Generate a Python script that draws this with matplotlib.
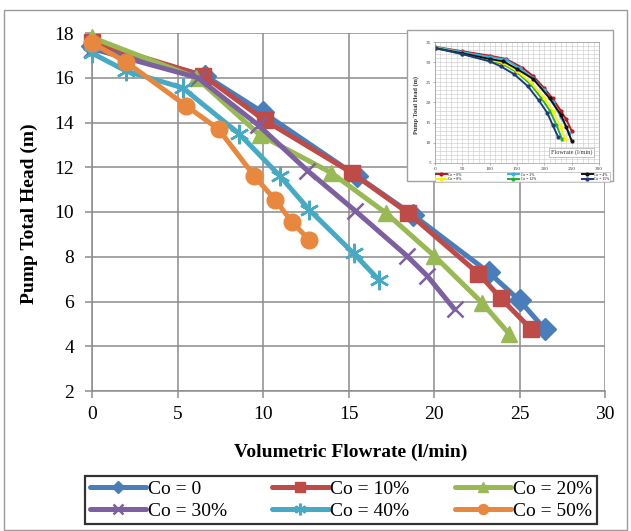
import matplotlib
matplotlib.use('Agg')
import matplotlib.pyplot as plt
from matplotlib.patches import Rectangle
from matplotlib.ticker import MultipleLocator

plt.rcParams['font.family'] = ['Liberation Serif', 'DejaVu Serif']

# ---------------- main chart data ----------------
labels = ['Co = 0', 'Co = 10%', 'Co = 20%', 'Co = 30%', 'Co = 40%', 'Co = 50%']

flow_0 = [0, 6.6, 10.0, 15.5, 18.8, 23.2, 25.0, 26.5]
head_0 = [17.4, 16.1, 14.45, 11.6, 9.85, 7.3, 6.05, 4.75]

flow_10 = [0, 6.5, 10.1, 15.2, 18.5, 22.6, 23.9, 25.7]
head_10 = [17.6, 16.1, 14.1, 11.75, 9.95, 7.25, 6.15, 4.75]

flow_20 = [0, 6.1, 9.8, 14.0, 17.2, 20.0, 22.8, 24.4]
head_20 = [17.8, 16.0, 13.45, 11.75, 9.95, 8.05, 5.95, 4.55]

flow_30 = [0, 6.2, 9.7, 12.6, 15.4, 18.4, 19.6, 21.2]
head_30 = [17.3, 16.0, 13.9, 11.85, 10.05, 8.05, 7.15, 5.65]

flow_40 = [0, 2.0, 5.3, 8.6, 11.0, 12.7, 15.3, 16.8]
head_40 = [17.1, 16.3, 15.55, 13.5, 11.6, 10.1, 8.15, 6.95]

flow_50 = [0, 2.0, 5.5, 7.4, 9.5, 10.7, 11.7, 12.7]
head_50 = [17.55, 16.7, 14.75, 13.7, 11.6, 10.55, 9.55, 8.75]

x_ticks = [0, 5, 10, 15, 20, 25, 30]
y_ticks = [2, 4, 6, 8, 10, 12, 14, 16, 18]

# ---------------- inset chart data ----------------
inset_labels = ['Co = 0%', 'Co = 2%', 'Co = 4%', 'Co = 8%', 'Co = 12%', 'Co = 15%']
in_flow_0 = [0, 50, 100, 130, 160, 180, 200, 215, 230, 240, 250]
in_head_0 = [33.8, 32.7, 31.6, 30.8, 28.6, 26.5, 23.5, 21.0, 18.0, 15.8, 13.0]
in_flow_2 = [0, 50, 100, 130, 155, 180, 200, 215, 230, 245]
in_head_2 = [33.8, 32.5, 31.3, 30.6, 28.5, 26.0, 23.0, 20.0, 16.5, 12.5]
in_flow_4 = [0, 50, 100, 125, 150, 180, 210, 230, 240, 250]
in_head_4 = [33.5, 32.2, 30.8, 30.2, 28.3, 25.8, 21.0, 17.0, 14.0, 10.5]
in_flow_8 = [0, 50, 100, 125, 150, 175, 200, 215, 230, 238]
in_head_8 = [33.6, 32.2, 30.6, 29.8, 27.8, 25.0, 21.0, 18.0, 14.0, 11.0]
in_flow_12 = [0, 50, 100, 125, 150, 175, 195, 210, 222, 232]
in_head_12 = [33.6, 32.0, 30.4, 29.5, 27.5, 24.5, 21.0, 18.0, 14.5, 11.0]
in_flow_15 = [0, 50, 100, 120, 145, 170, 190, 205, 215, 225]
in_head_15 = [33.5, 32.0, 30.2, 29.0, 27.0, 24.0, 20.5, 17.5, 14.5, 11.5]

W, H = 631, 531
fig = plt.figure(figsize=(W / 100, H / 100), dpi=100)

# outer chart border
fig.patches.append(Rectangle((4 / W, 1 - 530 / H), 623 / W, 520 / H,
                             transform=fig.transFigure, fill=False,
                             ec='#9a9a9a', lw=1.0, zorder=1))

ax = fig.add_axes([92 / W, 1 - 391 / H, 513 / W, 358 / H])

colors = ['#4A7EBB', '#BE4B48', '#98B954', '#7D60A0', '#46AAC5', '#E8883E']
markers = ['D', 's', '^', 'x', (6, 2, 0), 'o']
msizes = [11, 12, 12, 12, 14, 12]
flows = [flow_0, flow_10, flow_20, flow_30, flow_40, flow_50]
heads = [head_0, head_10, head_20, head_30, head_40, head_50]

handles = []
for f, h, c, m, ms, lab in zip(flows, heads, colors, markers, msizes, labels):
    ln, = ax.plot(f, h, color=c, lw=3.6, marker=m, markersize=ms,
                  markerfacecolor=c, markeredgecolor=c,
                  markeredgewidth=1.8 if m in ('x', (6, 2, 0)) else 1.0,
                  label=lab, solid_joinstyle='round', solid_capstyle='round',
                  clip_on=False, zorder=3)
    handles.append(ln)

ax.set_xlim(0, 30)
ax.set_ylim(2, 18)
ax.set_xticks(x_ticks)
ax.set_yticks(y_ticks)
ax.grid(True, color='#8c8c8c', lw=1.1)
ax.set_axisbelow(True)
for s in ['top', 'right']:
    ax.spines[s].set_visible(False)
for s in ['left', 'bottom']:
    ax.spines[s].set_color('#8c8c8c')
    ax.spines[s].set_linewidth(1.1)
ax.tick_params(axis='both', colors='#8c8c8c', labelcolor='black',
               labelsize=14, length=5, width=1.1, direction='out')
ax.tick_params(axis='y', pad=8)
ax.tick_params(axis='x', pad=6)

fig.text(351 / W, 1 - 452 / H, 'Volumetric Flowrate (l/min)', ha='center',
         va='center', fontsize=14, fontweight='bold')
fig.text(29 / W, 1 - 214 / H, 'Pump Total Head (m)', ha='center',
         va='center', fontsize=14, fontweight='bold', rotation=90)

# legend filled column-wise by matplotlib -> reorder so rows read 0,10,20 / 30,40,50
leg_order = [0, 3, 1, 4, 2, 5]
leg = fig.legend(handles=[handles[i] for i in leg_order],
                 labels=[labels[i] for i in leg_order], ncol=3, mode='expand',
                 loc='center', bbox_to_anchor=(85 / W, 1 - 527 / H, 512 / W, 54 / H),
                 fontsize=14, handlelength=2.9, handletextpad=0.1,
                 columnspacing=0.6, markerscale=0.6, frameon=True,
                 fancybox=False, borderpad=0.25, labelspacing=0.2,
                 borderaxespad=0)
leg.get_frame().set_edgecolor('black')
leg.get_frame().set_linewidth(1.6)

# ---------------- inset ----------------
fig.patches.append(Rectangle((407 / W, 1 - 181 / H), 206 / W, 151 / H,
                             transform=fig.transFigure, fc='white',
                             ec='#a0a0a0', lw=1.0, zorder=5))
ax2 = fig.add_axes([435 / W, 1 - 163 / H, 164 / W, 121 / H], zorder=6)
in_colors = ['#C0141C', '#33B5E8', '#111111', '#FFF200', '#1FAF3A', '#1F3C78']
in_flows = [in_flow_0, in_flow_2, in_flow_4, in_flow_8, in_flow_12, in_flow_15]
in_heads = [in_head_0, in_head_2, in_head_4, in_head_8, in_head_12, in_head_15]
draw_order = [0, 1, 4, 3, 2, 5]
in_handles = [None] * 6
for i in draw_order:
    ln, = ax2.plot(in_flows[i], in_heads[i], color=in_colors[i], lw=1.4,
                   marker='o', markersize=2, label=inset_labels[i])
    in_handles[i] = ln
ax2.set_xlim(0, 300)
ax2.set_ylim(5, 35)
ax2.xaxis.set_major_locator(MultipleLocator(50))
ax2.yaxis.set_major_locator(MultipleLocator(5))
ax2.xaxis.set_minor_locator(MultipleLocator(10))
ax2.yaxis.set_minor_locator(MultipleLocator(1))
ax2.grid(True, which='both', color='#c8c8c8', lw=0.4)
ax2.set_axisbelow(True)
for s in ax2.spines.values():
    s.set_color('#999999')
    s.set_linewidth(0.5)
ax2.tick_params(which='both', labelsize=3.8, length=1.5, width=0.4, pad=1.2,
                colors='#777777', labelcolor='#444444')
ax2.tick_params(which='minor', length=0)
fig.text(416 / W, 1 - 105 / H, 'Pump Total Head (m)', ha='center',
         va='center', fontsize=4.5, fontweight='bold', rotation=90,
         color='#333333', zorder=7)
ax2.text(0.96, 0.09, 'Flowrate (l/min)', transform=ax2.transAxes,
         ha='right', va='center', fontsize=4.5, color='#333333',
         bbox=dict(fc='white', ec='#999999', lw=0.4, pad=1.2))
leg2 = ax2.legend(handles=[in_handles[i] for i in leg_order],
                  labels=[inset_labels[i] for i in leg_order], ncol=3,
                  mode='expand', loc='upper left',
                  bbox_to_anchor=(0, -0.14, 1.07, 0.066), fontsize=2.7,
                  handlelength=3, handletextpad=0.4, frameon=True,
                  fancybox=False, borderpad=0.2, labelspacing=0.1,
                  borderaxespad=0)
leg2.get_frame().set_edgecolor('#888888')
leg2.get_frame().set_linewidth(0.4)

fig.savefig('out.png', dpi=100)
